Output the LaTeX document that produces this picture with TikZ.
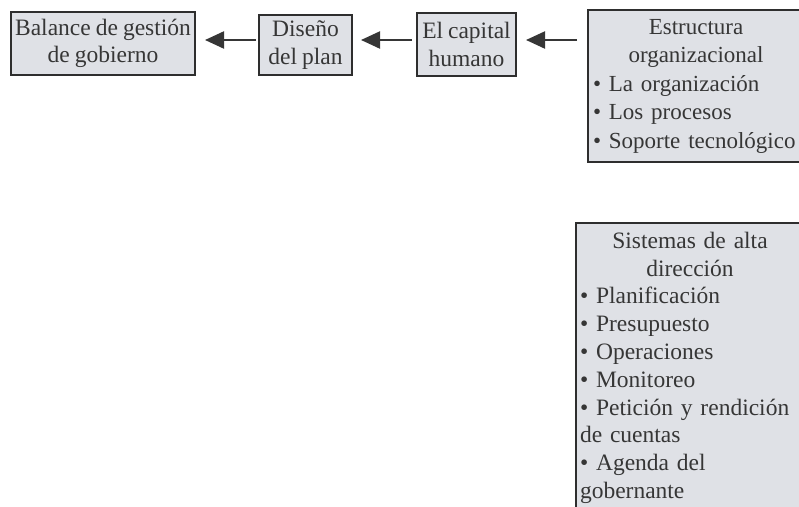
\documentclass[tikz,border=0pt]{standalone}
\usepackage{fontspec}
\setmainfont[WordSpace=0.85]{Liberation Serif}
\usetikzlibrary{arrows.meta}
\definecolor{boxfill}{HTML}{DFE1E6}
\definecolor{boxline}{HTML}{2E2E2E}
\definecolor{ink}{HTML}{363636}
\begin{document}
\begin{tikzpicture}[x=1pt,y=-1pt,
  box/.style={draw=boxline, fill=boxfill, line width=2.4pt, inner sep=0pt, outer sep=0pt,
    anchor=north west, text=ink, font=\fontsize{23.5}{27.5}\selectfont},
  link/.style={draw=ink, line width=2.2pt, -{Triangle[length=19pt,width=17pt]}}]
\useasboundingbox (0,0) rectangle (799,506);

% top row of boxes
\node[box, minimum width=184pt, minimum height=63pt, align=center] (bal) at (11,12)
  {Balance de gestión\\de gobierno};
\node[box, minimum width=93pt, minimum height=60pt, align=center] (dis) at (259,15)
  {Diseño\\del plan};
\node[box, minimum width=99pt, minimum height=63pt, align=center] (cap) at (417,13)
  {El capital\\humano};
\node[box, minimum width=230pt, minimum height=152pt, text width=230pt] (est) at (588,10)
  {\parbox[c][152pt][c]{230pt}{\fontsize{23}{28.5}\selectfont
   \hspace*{5pt}\parbox{206pt}{\centering Estructura\\organizacional\\[0pt]
   \raggedright • La organización\\• Los procesos\\\mbox{• Soporte tecnológico}}}};

% lower box
\node[box, minimum width=240pt, minimum height=300pt, text width=240pt] (sis) at (576,223)
  {\parbox[t][300pt][t]{240pt}{\fontsize{23.5}{27.8}\selectfont\vspace*{9pt}
   \hspace*{4pt}\parbox[t]{220pt}{\centering Sistemas de alta\\dirección\\[0pt]
   \raggedright • Planificación\\• Presupuesto\\• Operaciones\\• Monitoreo\\
   \mbox{• Petición y rendición}\\de cuentas\\• Agenda del\\gobernante}}};

% arrows between the top boxes
\draw[link, shorten <=3pt, shorten >=10pt] (dis.west |- 0,40) -- (bal.east |- 0,40);
\draw[link, shorten <=5pt, shorten >=9pt] (cap.west |- 0,40) -- (dis.east |- 0,40);
\draw[link, shorten <=11pt, shorten >=10pt] (est.west |- 0,40) -- (cap.east |- 0,40);
\end{tikzpicture}
\end{document}
